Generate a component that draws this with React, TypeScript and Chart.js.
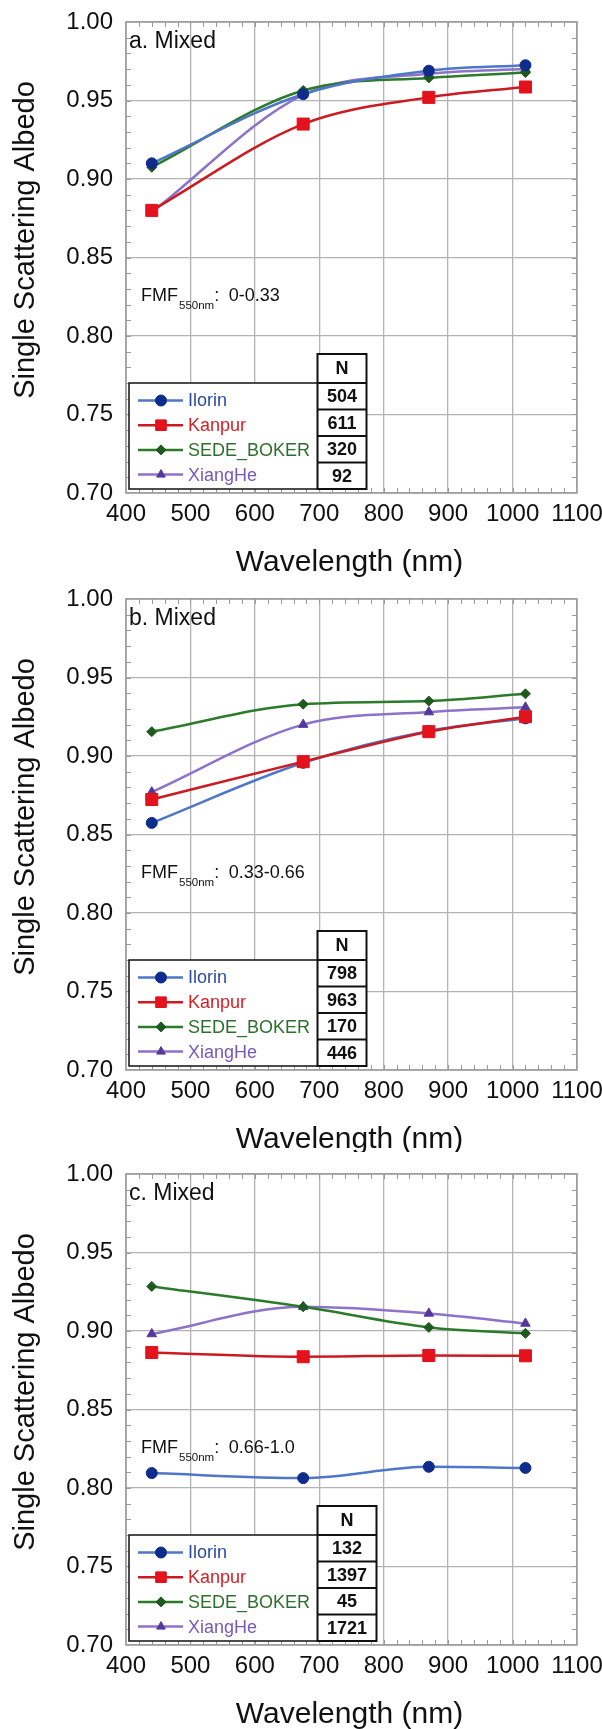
import React, { useEffect, useRef } from "react";
import { Chart, registerables } from "chart.js";
import { drawPoint } from "chart.js/helpers";

Chart.register(...registerables);

// ---------------- data ----------------
const WAVELENGTHS = [440, 675, 870, 1020];
const SITES = ["Ilorin", "Kanpur", "SEDE_BOKER", "XiangHe"];

const ILORIN_A = [0.910, 0.954, 0.969, 0.9725];
const KANPUR_A = [0.880, 0.935, 0.952, 0.9586];
const SEDE_A = [0.9075, 0.9564, 0.9644, 0.9678];
const XIANGHE_A = [0.8788, 0.9536, 0.967, 0.970];

const ILORIN_B = [0.8574, 0.8957, 0.916, 0.924];
const KANPUR_B = [0.8723, 0.8964, 0.9155, 0.925];
const SEDE_B = [0.9155, 0.933, 0.935, 0.9396];
const XIANGHE_B = [0.877, 0.920, 0.928, 0.931];

const ILORIN_C = [0.8095, 0.8063, 0.8135, 0.8128];
const KANPUR_C = [0.8863, 0.8836, 0.8844, 0.8842];
const SEDE_C = [0.9284, 0.9154, 0.9023, 0.8985];
const XIANGHE_C = [0.8981, 0.9154, 0.9112, 0.9048];

const N_A = [504, 611, 320, 92];
const N_B = [798, 963, 170, 446];
const N_C = [132, 1397, 45, 1721];

const PANEL_LABELS = ["a. Mixed", "b. Mixed", "c. Mixed"];
const FMF_RANGES = ["0-0.33", "0.33-0.66", "0.66-1.0"];

const X_TITLE = "Wavelength (nm)";
const Y_TITLE = "Single Scattering Albedo";

const PANELS = [
  { label: PANEL_LABELS[0], fmf: FMF_RANGES[0], n: N_A, series: [ILORIN_A, KANPUR_A, SEDE_A, XIANGHE_A] },
  { label: PANEL_LABELS[1], fmf: FMF_RANGES[1], n: N_B, series: [ILORIN_B, KANPUR_B, SEDE_B, XIANGHE_B] },
  { label: PANEL_LABELS[2], fmf: FMF_RANGES[2], n: N_C, series: [ILORIN_C, KANPUR_C, SEDE_C, XIANGHE_C] },
];

// ---------------- styles ----------------
const FONT = '"Liberation Sans", Arial, Helvetica, sans-serif';
const HEIGHTS = [577, 575, 577];
const PLOT_TOP = 22;
const PLOT_H = 471;
const PLOT_LEFT = 126;
const RIGHT_PAD = 25;

const STYLES = [
  { line: "#4f76c8", marker: "#0e2c8c", text: "#2c4aa0", pointStyle: "circle", radius: 5.5, legendRadius: 5.5, order: 1 },
  { line: "#cc1b20", marker: "#e3121c", text: "#d81e24", pointStyle: "rect", radius: 8.5, legendRadius: 7.5, order: 0 },
  { line: "#2b7b2b", marker: "#1e5a1e", text: "#2e6f2e", pointStyle: "rectRot", radius: 5, legendRadius: 5, order: 2 },
  { line: "#8c72c9", marker: "#55389c", text: "#7a58b8", pointStyle: "triangle", radius: 5.5, legendRadius: 5, order: 3 },
];

const decorPlugin = {
  id: "decor",
  beforeDatasetsDraw(chart: any) {
    const { ctx, chartArea: ca, scales } = chart;
    const xs = scales.x, ys = scales.y;
    ctx.save();
    // minor ticks
    ctx.strokeStyle = "#9a9a9a";
    ctx.lineWidth = 1;
    ctx.beginPath();
    for (let v = 420; v < 1100; v += 20) {
      const px = Math.round(xs.getPixelForValue(v)) + 0.5;
      ctx.moveTo(px, ca.bottom);
      ctx.lineTo(px, ca.bottom - 5);
      ctx.moveTo(px, ca.top);
      ctx.lineTo(px, ca.top + 5);
    }
    for (let k = 71; k < 100; k++) {
      const py = Math.round(ys.getPixelForValue(k / 100)) + 0.5;
      ctx.moveTo(ca.left, py);
      ctx.lineTo(ca.left + 5, py);
      ctx.moveTo(ca.right, py);
      ctx.lineTo(ca.right - 5, py);
    }
    ctx.stroke();
    // frame
    ctx.strokeStyle = "#9a9a9a";
    ctx.lineWidth = 1.5;
    ctx.strokeRect(ca.left, ca.top, ca.right - ca.left, ca.bottom - ca.top);
    ctx.restore();
  },
  afterDatasetsDraw(chart: any, _args: any, opts: any) {
    const { ctx, chartArea: ca } = chart;
    const L = ca.left, T = ca.top, B = ca.bottom;
    ctx.save();
    // panel label
    ctx.fillStyle = "#111";
    ctx.textBaseline = "alphabetic";
    ctx.textAlign = "left";
    ctx.font = `23px ${FONT}`;
    ctx.fillText(opts.label, L + 3, T + 26);

    // FMF annotation
    const fy = T + 279;
    ctx.font = `18px ${FONT}`;
    ctx.fillText("FMF", L + 15, fy);
    let x = L + 15 + ctx.measureText("FMF").width + 1;
    ctx.font = `11.5px ${FONT}`;
    ctx.fillText("550nm", x, fy + 8);
    x += ctx.measureText("550nm").width;
    ctx.font = `18px ${FONT}`;
    ctx.fillText(":", x, fy);
    ctx.fillText(opts.fmf, x + 14.5, fy);

    // legend box
    const boxL = L + 3, boxR = L + 192, boxT = B - 110, boxB = B - 4;
    ctx.fillStyle = "#fff";
    ctx.fillRect(boxL, boxT, boxR - boxL, boxB - boxT);
    ctx.strokeStyle = "#111";
    ctx.lineWidth = 1.5;
    ctx.strokeRect(boxL, boxT, boxR - boxL, boxB - boxT);
    SITES.forEach((name, i) => {
      const st = STYLES[i];
      const y = B - 92.5 + i * 24.7;
      ctx.strokeStyle = st.line;
      ctx.lineWidth = 2.5;
      ctx.beginPath();
      ctx.moveTo(L + 12, y);
      ctx.lineTo(L + 57, y);
      ctx.stroke();
      ctx.fillStyle = st.marker;
      ctx.strokeStyle = st.marker;
      ctx.lineWidth = 1;
      drawPoint(ctx, { pointStyle: st.pointStyle, rotation: 0, radius: st.legendRadius, borderWidth: 1 }, L + 35, y);
      ctx.fillStyle = st.text;
      ctx.font = `18px ${FONT}`;
      ctx.textBaseline = "middle";
      ctx.fillText(name, L + 62, y + 1);
    });

    // N table
    ctx.font = `bold 18px ${FONT}`;
    const maxW = Math.max(...opts.n.map((v: number) => ctx.measureText(String(v)).width));
    const tW = Math.max(48, Math.round(maxW + 19));
    const tL = boxR - 0.5, tR = tL + tW;
    const hT = B - 139, hB = B - 110;
    const rowH = (boxB - hB) / 4;
    ctx.fillStyle = "#fff";
    ctx.fillRect(tL, hT, tW, boxB - hT);
    ctx.strokeStyle = "#111";
    ctx.lineWidth = 2;
    ctx.strokeRect(tL, hT, tW, boxB - hT);
    ctx.beginPath();
    for (let i = 0; i < 4; i++) {
      const yy = hB + i * rowH;
      ctx.moveTo(tL, yy);
      ctx.lineTo(tR, yy);
    }
    ctx.stroke();
    ctx.fillStyle = "#111";
    ctx.textAlign = "center";
    ctx.textBaseline = "middle";
    ctx.fillText("N", tL + tW / 2, (hT + hB) / 2 + 1);
    opts.n.forEach((v: number, i: number) => {
      ctx.fillText(String(v), tL + tW / 2, hB + (i + 0.5) * rowH + 1);
    });

    // axis titles
    ctx.fillStyle = "#111";
    ctx.textAlign = "center";
    ctx.textBaseline = "alphabetic";
    ctx.font = `30px ${FONT}`;
    ctx.fillText(X_TITLE, (ca.left + ca.right) / 2 - 2, B + 78);
    ctx.save();
    ctx.translate(34, T + 218);
    ctx.rotate(-Math.PI / 2);
    ctx.font = `29px ${FONT}`;
    ctx.fillText(Y_TITLE, 0, 0);
    ctx.restore();
    ctx.restore();
  },
};

function buildConfig(panel: any, H: number): any {
  const datasets = SITES.map((name, i) => {
    const st = STYLES[i];
    return {
      label: name,
      data: WAVELENGTHS.map((w, j) => ({ x: w, y: panel.series[i][j] })),
      borderColor: st.line,
      backgroundColor: st.marker,
      pointBackgroundColor: st.marker,
      pointBorderColor: st.marker,
      pointStyle: st.pointStyle,
      pointRadius: st.radius,
      pointBorderWidth: 1,
      borderWidth: 2.5,
      cubicInterpolationMode: "monotone",
      tension: 0.4,
      fill: false,
      order: st.order,
    };
  });
  return {
    type: "line",
    data: { datasets },
    plugins: [decorPlugin],
    options: {
      responsive: false,
      devicePixelRatio: 1,
      animation: false,
      events: [],
      layout: { padding: { top: PLOT_TOP, left: 0, right: RIGHT_PAD, bottom: 0 } },
      plugins: {
        legend: { display: false },
        tooltip: { enabled: false },
        decor: { label: panel.label, fmf: panel.fmf, n: panel.n },
      },
      scales: {
        x: {
          type: "linear",
          min: 400,
          max: 1100,
          ticks: {
            stepSize: 100,
            font: { family: FONT, size: 24 },
            color: "#111",
            padding: 7,
            maxRotation: 0,
            autoSkip: false,
            callback: (v: any) => String(Math.round(Number(v))),
          },
          grid: { color: "#b3b3b3", lineWidth: 1.3, drawTicks: false },
          border: { display: false },
          afterFit: (s: any) => {
            s.height = H - PLOT_TOP - PLOT_H;
            s.paddingLeft = 0;
            s.paddingRight = 0;
          },
        },
        y: {
          type: "linear",
          min: 0.7,
          max: 1.0,
          ticks: {
            stepSize: 0.05,
            font: { family: FONT, size: 24 },
            color: "#111",
            padding: 13,
            callback: (v: any) => Number(v).toFixed(2),
          },
          grid: { color: "#b3b3b3", lineWidth: 1.3, drawTicks: false },
          border: { display: false },
          afterFit: (s: any) => {
            s.width = PLOT_LEFT;
            s.paddingTop = 0;
            s.paddingBottom = 0;
          },
        },
      },
    },
  };
}

export default function App() {
  const r0 = useRef<HTMLCanvasElement>(null);
  const r1 = useRef<HTMLCanvasElement>(null);
  const r2 = useRef<HTMLCanvasElement>(null);
  const refs = [r0, r1, r2];

  useEffect(() => {
    document.body.style.margin = "0";
    document.body.style.background = "#fff";
    const charts = PANELS.map((p, i) => new Chart(refs[i].current as HTMLCanvasElement, buildConfig(p, HEIGHTS[i])));
    return () => charts.forEach((c) => c.destroy());
  }, []);

  return (
    <div style={{ position: "absolute", left: 0, top: 0, width: 602, background: "#fff" }}>
      {PANELS.map((_, i) => (
        <div key={i} style={{ width: 602, height: HEIGHTS[i] }}>
          <canvas
            ref={refs[i]}
            width={602}
            height={HEIGHTS[i]}
            style={{ display: "block", width: 602, height: HEIGHTS[i] }}
          />
        </div>
      ))}
    </div>
  );
}
